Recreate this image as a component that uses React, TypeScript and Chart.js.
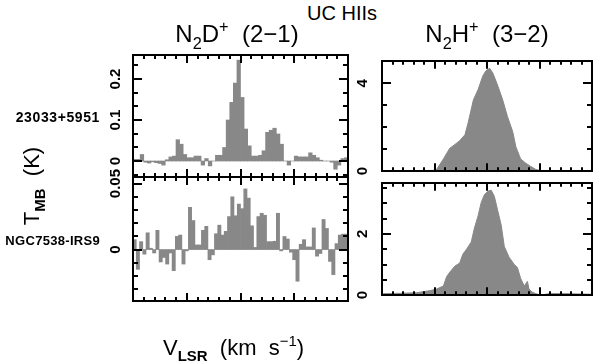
import React, { useEffect, useRef } from "react";
import { Chart, registerables } from "chart.js";

Chart.register(...registerables);

const FONT = "'Liberation Sans', Arial, Helvetica, sans-serif";
const GREY = "#888888";

// velocity axis (km s^-1)
const V_RANGE = [-20, 20];
const V_MAJOR_STEP = 10;
const V_MINOR_STEP = 2;

// N2D+ (2-1), T_MB (K), equal channels spanning V_RANGE
const N2D_23033 = [
  0.004, 0.004, 0.016, -0.003, -0.005, -0.002, -0.004, -0.006, -0.01, 0.003,
  0.01, 0.012, 0.052, 0.041, 0.016, 0.008, 0.008, 0.012, 0.012, -0.01,
  0.006, -0.012, 0.0, 0.014, 0.014, 0.033, 0.1, 0.143, 0.19, 0.246,
  0.155, 0.078, 0.037, 0.012, 0.012, 0.014, 0.025, 0.07, 0.075, 0.08,
  0.066, 0.041, 0.0, -0.01, 0.0, 0.012, 0.01, 0.01, 0.01, 0.02,
  0.014, 0.008, 0.002, 0.0, 0.0, -0.003, -0.02, -0.01, 0.006, 0.008,
];
const N2D_NGC7538 = [
  0.0075, -0.015, 0.006, -0.0035, 0.0127, 0.001, -0.0026, 0.0146, -0.0094, -0.006,
  -0.011, -0.0026, -0.016, 0.01, 0.011, -0.011, -0.001, 0.032, 0.022, 0.0035,
  0.0035, 0.0146, 0.0176, -0.0077, -0.004, 0.012, 0.0185, 0.011, 0.0138, 0.025,
  0.04, 0.0256, 0.0345, 0.031, 0.046, 0.039, 0.018, 0.0016, 0.025, 0.0275,
  0.026, 0.006, 0.006, 0.0063, 0.0275, -0.001, 0.0099, 0.008, -0.002, -0.0077,
  -0.024, 0.004, 0.0075, 0.002, 0.002, 0.0164, -0.005, -0.003, 0.0228, 0.016,
  -0.009, -0.019, 0.0045, 0.011, 0.0117, 0.0117,
];

// N2H+ (3-2): velocity (km s^-1) and T_MB (K)
const N2H_23033_V = [-20, -15, -11.5, -9.9, -9.6, -8.3, -7.1, -6.1, -5.2, -4.2, -3.6, -2.6, -1.7, -0.8, -0.2, 0.5, 1.1, 2.0, 3.0, 3.9, 4.9, 5.5, 6.4, 7.4, 8.3, 9.3, 10.2, 14, 20];
const N2H_23033_T = [0.01, 0.02, 0.03, 0.04, 0.08, 0.56, 1.04, 1.22, 1.39, 1.66, 2.2, 3.24, 3.72, 4.34, 4.58, 4.69, 4.48, 3.93, 3.24, 2.49, 1.8, 1.11, 0.56, 0.36, 0.22, 0.08, 0.02, 0.02, 0.01];
const N2H_NGC7538_V = [-20, -19.7, -16.5, -13.4, -10.8, -9.6, -8.3, -7.7, -7.1, -6.1, -5.2, -4.6, -3.9, -3.0, -2.4, -1.7, -1.1, -0.5, 0.2, 0.8, 1.4, 2.0, 2.7, 3.3, 4.2, 5.2, 5.8, 6.4, 7.1, 7.7, 8.0, 8.6, 9.3, 10.2, 11.8, 14.9, 20];
const N2H_NGC7538_T = [0.03, 0.05, 0.06, 0.08, 0.15, 0.2, 0.3, 0.6, 0.75, 0.95, 1.05, 1.34, 1.5, 1.74, 2.19, 2.59, 3.03, 3.28, 3.4, 3.43, 3.23, 2.79, 2.29, 1.59, 1.24, 1.0, 0.9, 0.55, 0.3, 0.45, 0.2, 0.1, 0.05, 0.0, 0.05, 0.05, 0.03];

// y axes: range, labelled step, major tick step, minor tick step
const Y_N2D_23033 = { min: -0.039, max: 0.2585, label: 0.1, major: 0.1, minor: 1 / 30 };
const Y_N2D_NGC7538 = { min: -0.039, max: 0.055, label: 0.05, major: 0.05, minor: 0.01 };
const Y_N2H_23033 = { min: 0, max: 5.03, label: 4, major: 4, minor: 1 };
const Y_N2H_NGC7538 = { min: 0, max: 3.67, label: 2, major: 2, minor: 0.5 };

const PAD_L = 46, PAD_T = 18, PAD_R = 8, PAD_B = 18;
const TICK_FONT_SIZE = 15;

type YSpec = { min: number; max: number; label: number; major: number; minor: number };
type Spec = {
  kind: "bar" | "line";
  xs?: number[];
  ys: number[];
  y: YSpec;
  box: { left: number; top: number; width: number; height: number };
  gap: number;
};

const SPECS: Spec[] = [
  { kind: "bar", ys: N2D_23033, y: Y_N2D_23033, box: { left: 133, top: 55, width: 215, height: 122 }, gap: 17 },
  { kind: "bar", ys: N2D_NGC7538, y: Y_N2D_NGC7538, box: { left: 133, top: 177, width: 215, height: 124 }, gap: 17 },
  { kind: "line", xs: N2H_23033_V, ys: N2H_23033_T, y: Y_N2H_23033, box: { left: 382, top: 55, width: 210, height: 122 }, gap: 19 },
  { kind: "line", xs: N2H_NGC7538_V, ys: N2H_NGC7538_T, y: Y_N2H_NGC7538, box: { left: 382, top: 177, width: 210, height: 124 }, gap: 19 },
];

function fmt(v: number) {
  return String(Number(v.toFixed(3)));
}

function measure(text: string, font: string) {
  const ctx = document.createElement("canvas").getContext("2d")!;
  ctx.font = font;
  return ctx.measureText(text).width;
}

function tickAxis(axis: "x" | "y", position: string, min: number, max: number, step: number, len: number, border: boolean) {
  return {
    type: "linear",
    axis,
    position,
    min,
    max,
    offset: false,
    weight: 0,
    ticks: { display: false, stepSize: step, includeBounds: false, autoSkip: false },
    grid: {
      display: true,
      drawOnChartArea: false,
      drawTicks: true,
      tickLength: -len,
      tickWidth: 2,
      tickColor: "#000",
      lineWidth: 2,
      color: "#000",
      offset: false,
      z: 1,
    },
    border: { display: border, width: 2, color: "#000", z: 1 },
    afterFit: (s: any) => {
      if (axis === "x") s.height = 0;
      else s.width = 0;
    },
  };
}

function buildChart(canvas: HTMLCanvasElement, spec: Spec) {
  const fontStr = `bold ${TICK_FONT_SIZE}px ${FONT}`;
  const labels: string[] = [];
  const start = Math.ceil(spec.y.min / spec.y.label - 1e-9);
  for (let k = start; k * spec.y.label <= spec.y.max + 1e-9; k++) labels.push(fmt(k * spec.y.label));
  const widest = Math.max(...labels.map((l) => measure(l, fontStr)));
  const pad = spec.gap - widest / 2;

  const [vmin, vmax] = V_RANGE;
  let dataset: any;
  if (spec.kind === "bar") {
    const dv = (vmax - vmin) / spec.ys.length;
    dataset = {
      type: "bar",
      data: spec.ys.map((y, i) => ({ x: vmin + (i + 0.5) * dv, y })),
      backgroundColor: GREY,
      borderWidth: 0,
      categoryPercentage: 1,
      barPercentage: 1,
      xAxisID: "x",
      yAxisID: "y",
    };
  } else {
    dataset = {
      type: "line",
      data: spec.ys.map((y, i) => ({ x: spec.xs![i], y })),
      backgroundColor: GREY,
      borderColor: GREY,
      borderWidth: 1,
      fill: "origin",
      pointRadius: 0,
      tension: 0,
      xAxisID: "x",
      yAxisID: "y",
    };
  }

  const { min, max } = spec.y;
  return new Chart(canvas, {
    type: spec.kind,
    data: { datasets: [dataset] },
    options: {
      animation: false,
      responsive: false,
      devicePixelRatio: 1,
      events: [],
      layout: { padding: { left: 0, top: PAD_T, right: PAD_R, bottom: PAD_B } },
      plugins: { legend: { display: false }, tooltip: { enabled: false }, title: { display: false } },
      scales: {
        x: tickAxis("x", "bottom", vmin, vmax, V_MAJOR_STEP, 8, true),
        xm: tickAxis("x", "bottom", vmin, vmax, V_MINOR_STEP, 4, false),
        xt: tickAxis("x", "top", vmin, vmax, V_MAJOR_STEP, 8, true),
        xtm: tickAxis("x", "top", vmin, vmax, V_MINOR_STEP, 4, false),
        y: {
          type: "linear",
          axis: "y",
          position: "left",
          min,
          max,
          weight: 10,
          ticks: {
            display: true,
            stepSize: spec.y.label,
            includeBounds: false,
            autoSkip: false,
            minRotation: 90,
            maxRotation: 90,
            crossAlign: "center",
            padding: pad,
            color: "#000",
            font: { family: FONT, size: TICK_FONT_SIZE, weight: "bold" },
            callback: (v: any) => fmt(Number(v)),
          },
          grid: { display: false, drawTicks: false },
          border: { display: false },
          afterFit: (s: any) => {
            s.width = PAD_L;
          },
        },
        yl: tickAxis("y", "left", min, max, spec.y.major, 9, true),
        ylm: tickAxis("y", "left", min, max, spec.y.minor, 5, false),
        yr: tickAxis("y", "right", min, max, spec.y.major, 9, true),
        yrm: tickAxis("y", "right", min, max, spec.y.minor, 5, false),
      } as any,
    },
  } as any);
}

const Sub = ({ children, bold }: { children: React.ReactNode; bold?: boolean }) => (
  <span style={{ fontSize: "0.68em", position: "relative", top: "0.4em", fontWeight: bold ? "bold" : "normal" }}>{children}</span>
);
const Sup = ({ children }: { children: React.ReactNode }) => (
  <span style={{ fontSize: "0.68em", position: "relative", top: "-0.6em" }}>{children}</span>
);

export default function App() {
  const refs = useRef<(HTMLCanvasElement | null)[]>([]);
  useEffect(() => {
    const charts = SPECS.map((s, i) => buildChart(refs.current[i]!, s));
    return () => charts.forEach((c) => c.destroy());
  }, []);

  const text: React.CSSProperties = { position: "absolute", whiteSpace: "nowrap", lineHeight: 1, color: "#000" };

  return (
    <div style={{ position: "absolute", left: 0, top: 0, width: 600, height: 363, background: "#fff", overflow: "hidden", fontFamily: FONT }}>
      {SPECS.map((s, i) => {
        const w = s.box.width + PAD_L + PAD_R;
        const h = s.box.height + PAD_T + PAD_B;
        return (
          <canvas
            key={i}
            ref={(el) => {
              refs.current[i] = el;
            }}
            width={w}
            height={h}
            style={{ position: "absolute", left: s.box.left - PAD_L, top: s.box.top - PAD_T, width: w, height: h }}
          />
        );
      })}
      <div style={{ ...text, left: 342, top: 3, fontSize: 20, transform: "translateX(-50%)" }}>UC HIIs</div>
      <div style={{ ...text, left: 237, top: 22, fontSize: 24, transform: "translateX(-50%)" }}>
        N<Sub>2</Sub>D<Sup>+</Sup>&nbsp;&nbsp;(2−1)
      </div>
      <div style={{ ...text, left: 487, top: 22, fontSize: 24, transform: "translateX(-50%)" }}>
        N<Sub>2</Sub>H<Sup>+</Sup>&nbsp;&nbsp;(3−2)
      </div>
      <div style={{ ...text, right: 500, top: 110, fontSize: 14, fontWeight: "bold", letterSpacing: 0.6 }}>23033+5951</div>
      <div style={{ ...text, right: 500, top: 234, fontSize: 13, fontWeight: "bold", letterSpacing: 0.3 }}>NGC7538-IRS9</div>
      <div style={{ ...text, left: 32, top: 186, fontSize: 22, transform: "translate(-50%, -50%) rotate(-90deg)" }}>
        T<Sub bold>MB</Sub>&nbsp;&nbsp;(K)
      </div>
      <div style={{ ...text, left: 163, top: 337, fontSize: 22 }}>
        V<Sub bold>LSR</Sub>&nbsp;&nbsp;(km&nbsp;&nbsp;s<Sup>−1</Sup>)
      </div>
    </div>
  );
}
